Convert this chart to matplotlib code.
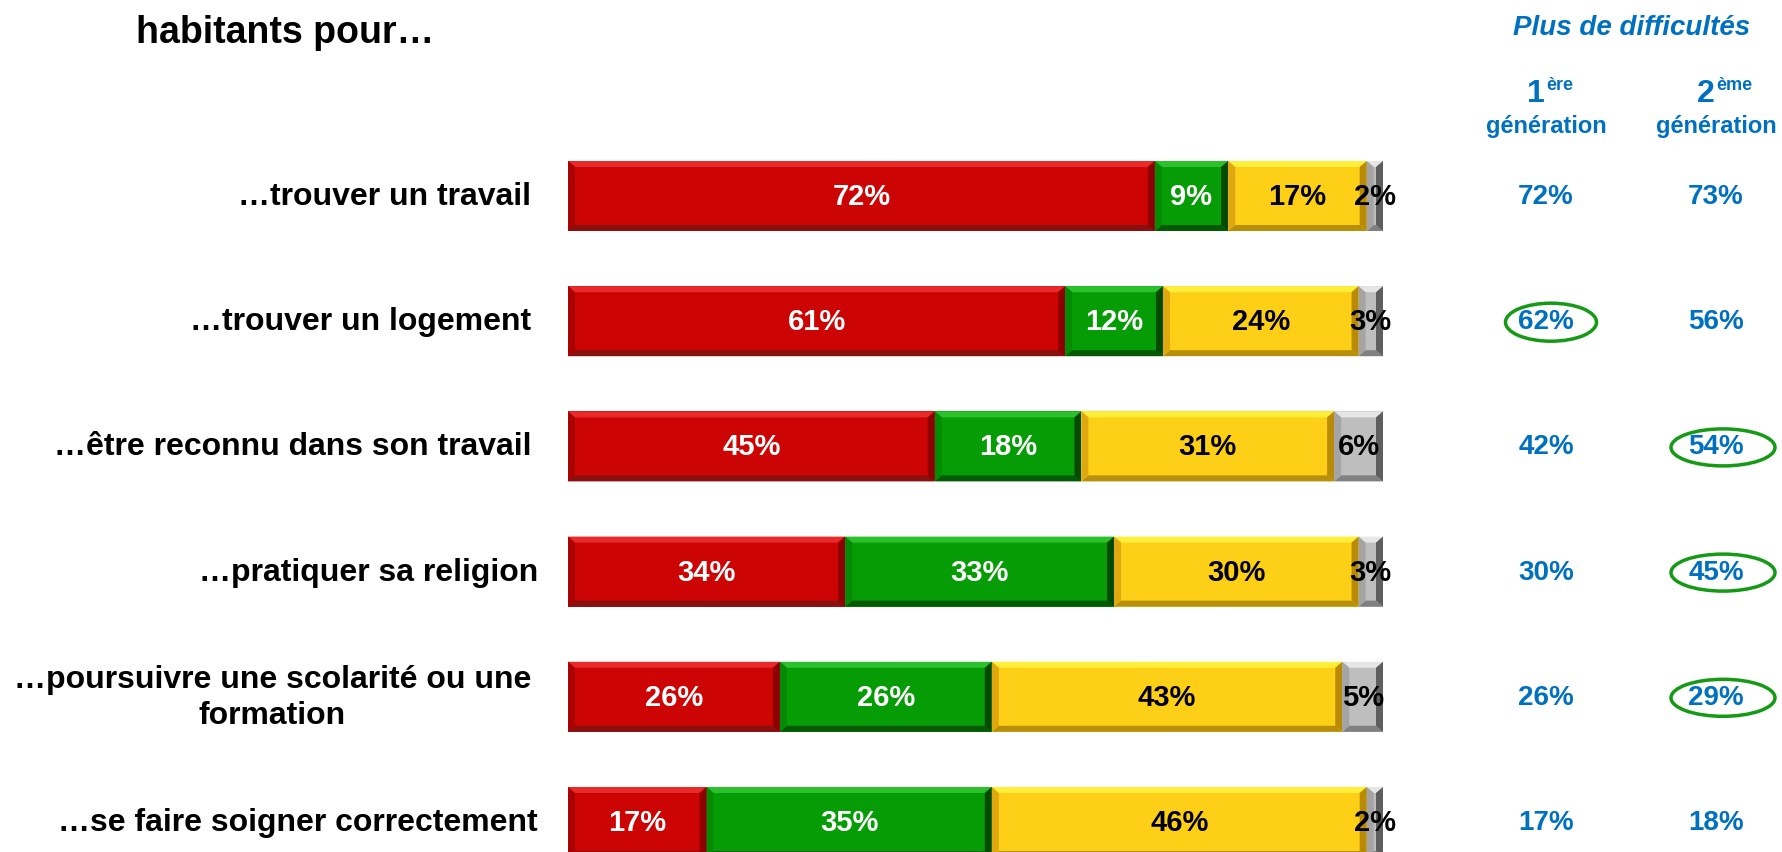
import matplotlib
matplotlib.use("Agg")
import matplotlib.pyplot as plt
from matplotlib.patches import Polygon, Ellipse

plt.rcParams['font.family'] = ['Liberation Sans', 'DejaVu Sans']

# ---- data -------------------------------------------------------------
items = [
    "…trouver un travail",
    "…trouver un logement",
    "…être reconnu dans son travail",
    "…pratiquer sa religion",
    "…poursuivre une scolarité ou une\nformation",
    "…se faire soigner correctement",
]
plus_difficile = [72, 61, 45, 34, 26, 17]
moins_difficile = [9, 12, 18, 33, 26, 35]
ni_plus_ni_moins = [17, 24, 31, 30, 43, 46]
nsp = [2, 3, 6, 3, 5, 2]

gen1 = [72, 62, 42, 30, 26, 17]
gen2 = [73, 56, 54, 45, 29, 18]
circled_gen1 = [False, True, False, False, False, False]
circled_gen2 = [False, False, True, True, True, False]

# ---- styling ----------------------------------------------------------
W, H = 1782, 853
BLUE = "#0070C0"
RING = "#159A15"
palettes = [
    # base, top, bottom, left, right, text colour
    dict(base="#CC0404", top="#E82A2A", bot="#8A1010", left="#A80202", right="#8E0000", txt="white"),
    dict(base="#069C06", top="#2CC02C", bot="#045A04", left="#058A05", right="#034A03", txt="white"),
    dict(base="#FDD017", top="#FFEE3A", bot="#B88F0A", left="#E0A810", right="#B88A05", txt="black"),
    dict(base="#BEBEBE", top="#E6E6E6", bot="#808080", left="#A4A4A4", right="#5E5E5E", txt="black"),
]
series = [plus_difficile, moins_difficile, ni_plus_ni_moins, nsp]
label_gap_px = [37, 37, 37, 30, 37, 30]

fig = plt.figure(figsize=(W / 100, H / 100), dpi=100)

# bar axes: 100 % spans x-pixels 568..1383, rows 125.2 px apart
x0px, x1px = 568, 1383
row0, pitch = 197, 125.2
n = len(items)
top_px = row0 - pitch / 2
bot_px = top_px + pitch * n
ax = fig.add_axes([x0px / W, 1 - bot_px / H, (x1px - x0px) / W, (bot_px - top_px) / H])
ax.set_xlim(0, 100)
ax.set_ylim(n - 0.5, -0.5)
ax.axis("off")

bar_h = 70 / pitch
px_x = (x1px - x0px) / 100.0
bx = 7 / px_x
by = 6 / pitch

ypos = list(range(n))
lefts = [0] * n
for s, vals in enumerate(series):
    pal = palettes[s]
    bars = ax.barh(ypos, vals, left=lefts, height=bar_h, color=pal["base"], linewidth=0)
    for i, rect in enumerate(bars):
        xa = rect.get_x()
        xb = xa + rect.get_width()
        t = rect.get_y()
        b = t + rect.get_height()
        ax.add_patch(Polygon([(xa, t), (xb, t), (xb - bx, t + by), (xa + bx, t + by)],
                             closed=True, color=pal["top"], lw=0))
        ax.add_patch(Polygon([(xa, b), (xb, b), (xb - bx, b - by), (xa + bx, b - by)],
                             closed=True, color=pal["bot"], lw=0))
        ax.add_patch(Polygon([(xa, t), (xa + bx, t + by), (xa + bx, b - by), (xa, b)],
                             closed=True, color=pal["left"], lw=0))
        ax.add_patch(Polygon([(xb, t), (xb - bx, t + by), (xb - bx, b - by), (xb, b)],
                             closed=True, color=pal["right"], lw=0))
        ax.text((xa + xb) / 2, ypos[i], f"{vals[i]}%", ha="center", va="center",
                color=pal["txt"], fontsize=21, fontweight="bold", clip_on=False)
    lefts = [l + v for l, v in zip(lefts, vals)]

# row labels
for i, lab in enumerate(items):
    ax.text(-label_gap_px[i] / px_x, i, lab, ha="right", va="center", fontsize=23,
            fontweight="bold", multialignment="center", linespacing=1.28, clip_on=False)


def fy(px):
    return 1 - px / H


def fx(px):
    return px / W


# title (visible second line)
fig.text(fx(136), fy(33), "habitants pour…", ha="left", va="center",
         fontsize=27, fontweight="bold")

# right-hand columns
c1, c2 = 1546, 1716
fig.text(fx(1632), fy(28), "Plus de difficultés", ha="center", va="center",
         color=BLUE, fontsize=20, fontweight="bold", style="italic")
for cx, num, sup in [(c1, "1", "ère"), (c2, "2", "ème")]:
    fig.text(fx(cx - 10), fy(94), num, ha="center", va="center",
             color=BLUE, fontsize=23, fontweight="bold")
    fig.text(fx(cx), fy(86), sup, ha="left", va="center",
             color=BLUE, fontsize=13, fontweight="bold")
    fig.text(fx(cx), fy(127), "génération", ha="center", va="center",
             color=BLUE, fontsize=17, fontweight="bold")

ring_geom = {c1: (5, 91, 38), c2: (7, 104, 37)}
for i in range(n):
    ypx = row0 + pitch * i
    for cx, vals, rings in [(c1, gen1, circled_gen1), (c2, gen2, circled_gen2)]:
        fig.text(fx(cx), fy(ypx), f"{vals[i]}%", ha="center", va="center",
                 color=BLUE, fontsize=20, fontweight="bold")
        if rings[i]:
            off, ew, eh = ring_geom[cx]
            fig.add_artist(Ellipse((fx(cx + off), fy(ypx + 1)), ew / W, eh / H,
                                   transform=fig.transFigure, fill=False,
                                   edgecolor=RING, linewidth=2.5))

fig.savefig("out.png", dpi=100)
